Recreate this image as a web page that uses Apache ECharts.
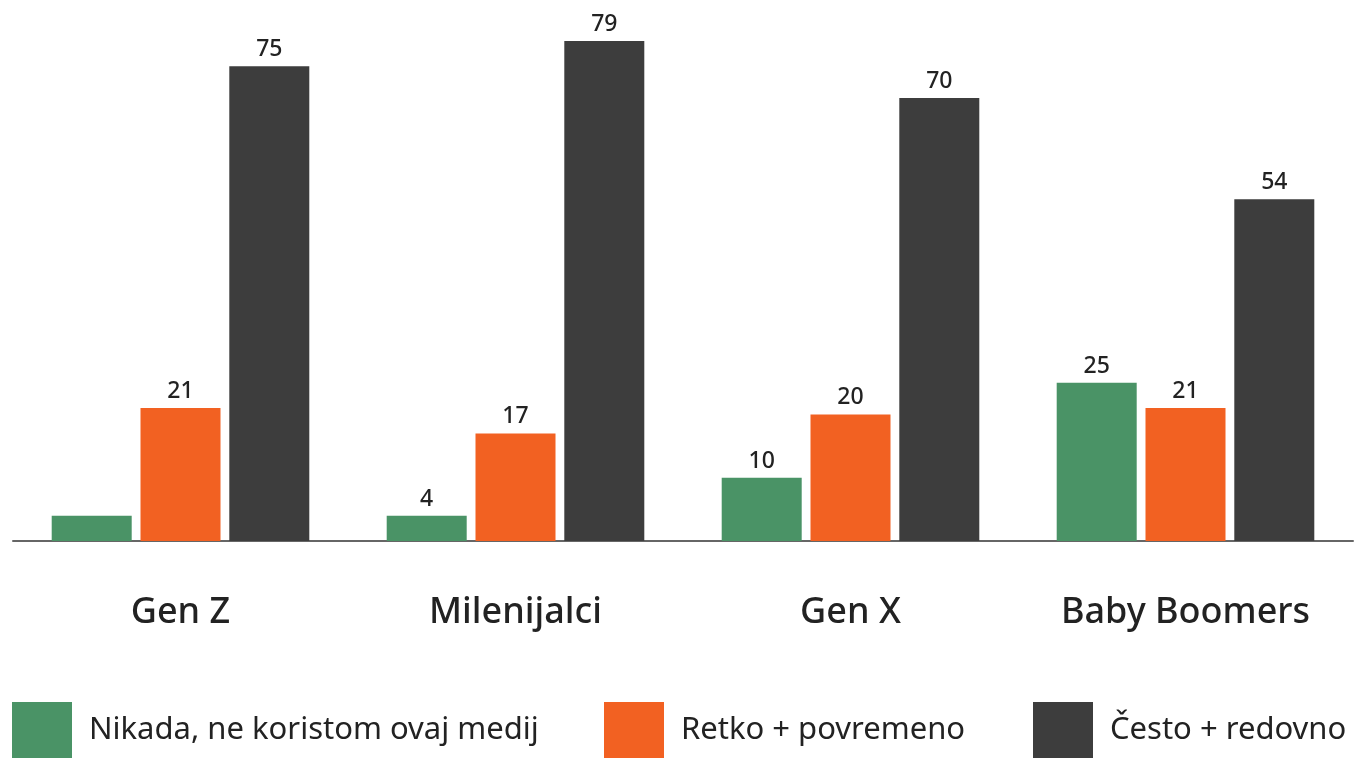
<!DOCTYPE html>
<html><head><meta charset="utf-8">
<script src="https://cdn.jsdelivr.net/npm/echarts@6/dist/echarts.min.js"></script>
<style>html,body{margin:0;padding:0;background:#fff}#c{width:1356px;height:758px}</style>
</head><body><div id="c"></div>
<script>
const categories = ['Gen Z', 'Milenijalci', 'Gen X', 'Baby Boomers'];
const seriesNames = ['Nikada, ne koristom ovaj medij', 'Retko + povremeno', 'Često + redovno'];
const nikada = [4, 4, 10, 25];
const retko = [21, 17, 20, 21];
const cesto = [75, 79, 70, 54];
const hiddenLabels = [[0], [], []];
const colors = ['#4A9366', '#F26122', '#3D3D3D'];
const font = 'Noto Sans';

const chart = echarts.init(document.getElementById('c'));
const mk = (name, vals, i) => ({
  name, type: 'bar', barWidth: 80, barGap: '11%',
  itemStyle: { color: colors[i] },
  data: vals.map((v, k) => ({ value: v, label: { show: !hiddenLabels[i].includes(k) } })),
  label: { show: true, position: 'top', distance: 5, fontSize: 23, fontWeight: 500, color: '#222', fontFamily: font },
  emphasis: { disabled: true }
});
const legendItem = (i, left) => ({
  data: [seriesNames[i]], left, top: 702, padding: 0, itemWidth: 60, itemHeight: 56, icon: 'rect',
  selectedMode: false,
  textStyle: { fontSize: 31, color: '#222', fontFamily: font, padding: [5, 0, 0, 12] }
});
chart.setOption({
  animation: false,
  grid: { left: 13, right: 3, top: 41, bottom: 217, containLabel: false },
  xAxis: {
    type: 'category', data: categories,
    axisLine: { lineStyle: { color: '#666', width: 2 } },
    axisTick: { show: false },
    axisLabel: { fontSize: 36, fontWeight: 500, color: '#222', margin: 54, fontFamily: font }
  },
  yAxis: { type: 'value', min: 0, max: 79, show: false, splitLine: { show: false } },
  legend: [legendItem(0, 12), legendItem(1, 604), legendItem(2, 1033)],
  series: [mk(seriesNames[0], nikada, 0), mk(seriesNames[1], retko, 1), mk(seriesNames[2], cesto, 2)]
});
</script></body></html>
